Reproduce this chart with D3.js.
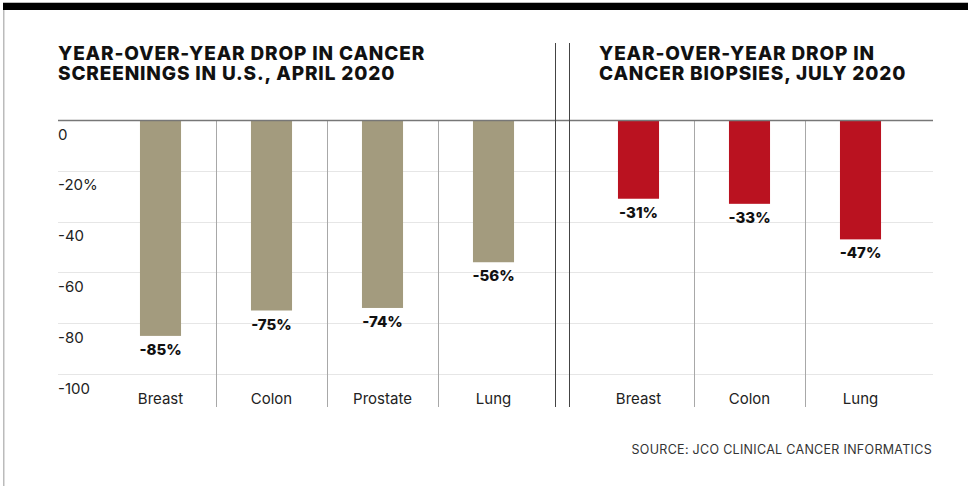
<!DOCTYPE html>
<meta charset="utf-8">
<style>
body { margin: 0; background: #fff; }
svg { display: block; }
.grid line { stroke: #e6e6e6; shape-rendering: crispEdges; }
.divider { stroke: #a8a8a8; shape-rendering: crispEdges; }
.sep { stroke: #444; shape-rendering: crispEdges; }
.title { font-family: Inter, "Noto Sans", sans-serif; font-weight: 800; font-size: 19px; fill: #111; letter-spacing: 0.85px; }
.tick text { font-family: Inter, Roboto, sans-serif; font-size: 15px; fill: #222; }
.cat { font-family: Inter, Roboto, sans-serif; font-size: 15px; fill: #222; }
.val { font-family: Inter, Roboto, sans-serif; font-size: 15px; font-weight: 800; fill: #111; }
.source { font-family: Inter, Roboto, sans-serif; font-size: 12.5px; fill: #333; letter-spacing: 0.3px; }
</style>
<body>
<script src="https://cdn.jsdelivr.net/npm/d3@7"></script>
<script>
// screenings, April 2020
var screenCats = ["Breast", "Colon", "Prostate", "Lung"];
var screenVals = [-85, -75, -74, -56];
// biopsies, July 2020
var biopsyCats = ["Breast", "Colon", "Lung"];
var biopsyVals = [-31, -33, -47];
var yTicks = [0, -20, -40, -60, -80, -100];
var yTickLabels = ["0", "-20%", "-40", "-60", "-80", "-100"];

var width = 968, height = 486;

var svg = d3.select("body").append("svg")
  .attr("width", width)
  .attr("height", height);

// frame: black bar on top, thin gray border left
svg.append("rect").attr("x", 3).attr("y", 2).attr("width", width - 3).attr("height", 1).attr("fill", "#bbb");
svg.append("rect").attr("x", 3).attr("y", 3).attr("width", width - 3).attr("height", 7).attr("fill", "#000");
svg.append("rect").attr("x", 3).attr("y", 10).attr("width", 1.5).attr("height", height - 10).attr("fill", "#bbb");

var y = d3.scaleLinear().domain([0, -100]).range([120, 374]);

// gridlines + tick labels
var yAxis = d3.axisLeft(y)
  .tickValues(yTicks)
  .tickSize(-(933 - 58))
  .tickFormat(function(d, i) { return yTickLabels[i]; });

var gAxis = svg.append("g")
  .attr("class", "grid")
  .attr("transform", "translate(58,0)")
  .call(yAxis);
gAxis.select(".domain").remove();
gAxis.selectAll(".tick line").attr("stroke", "#e6e6e6");
gAxis.selectAll(".tick text")
  .attr("x", 0)
  .attr("dy", 19)
  .attr("text-anchor", "start");

// two panels
var panels = [
  { cats: screenCats, vals: screenVals, x0: 105, color: "#a39b7e",
    title: ["YEAR-OVER-YEAR DROP IN CANCER", "SCREENINGS IN U.S., APRIL 2020"], tx: 58 },
  { cats: biopsyCats, vals: biopsyVals, x0: 583, color: "#ba1220",
    title: ["YEAR-OVER-YEAR DROP IN", "CANCER BIOPSIES, JULY 2020"], tx: 599 }
];

panels.forEach(function(p) {
  var x = d3.scaleBand()
    .domain(p.cats)
    .range([p.x0, p.x0 + 111 * p.cats.length])
    .paddingInner(0.63)
    .paddingOuter(0.315);

  var step = x.step();
  var g = svg.append("g");

  // light dividers between categories
  g.selectAll(".divider")
    .data(p.cats.slice(1))
    .enter().append("line")
    .attr("class", "divider")
    .attr("x1", function(d) { return Math.round(x(d) - x.paddingInner() * step / 2) + 0.5; })
    .attr("x2", function(d) { return Math.round(x(d) - x.paddingInner() * step / 2) + 0.5; })
    .attr("y1", 120)
    .attr("y2", 407);

  g.selectAll(".bar")
    .data(p.vals)
    .enter().append("rect")
    .attr("x", function(d, i) { return x(p.cats[i]); })
    .attr("y", y(0))
    .attr("width", x.bandwidth())
    .attr("height", function(d) { return y(d) - y(0); })
    .attr("fill", p.color);

  g.selectAll(".val")
    .data(p.vals)
    .enter().append("text")
    .attr("class", "val")
    .attr("x", function(d, i) { return x(p.cats[i]) + x.bandwidth() / 2; })
    .attr("y", function(d) { return y(d) + 19; })
    .attr("text-anchor", "middle")
    .text(function(d) { return d + "%"; });

  g.selectAll(".cat")
    .data(p.cats)
    .enter().append("text")
    .attr("class", "cat")
    .attr("x", function(d) { return x(d) + x.bandwidth() / 2; })
    .attr("y", 404)
    .attr("text-anchor", "middle")
    .text(function(d) { return d; });

  g.selectAll(".title")
    .data(p.title)
    .enter().append("text")
    .attr("class", "title")
    .attr("x", p.tx)
    .attr("y", function(d, i) { return 60 + i * 20; })
    .text(function(d) { return d; });
});

// zero line
svg.append("line")
  .attr("x1", 58).attr("x2", 933)
  .attr("y1", Math.round(y(0)) + 0.5).attr("y2", Math.round(y(0)) + 0.5)
  .attr("stroke", "#777")
  .attr("stroke-width", 1.5);

// double separator between panels
[555, 569].forEach(function(sx) {
  svg.append("line")
    .attr("class", "sep")
    .attr("x1", sx + 0.5).attr("x2", sx + 0.5)
    .attr("y1", 43).attr("y2", 407);
});

svg.append("text")
  .attr("class", "source")
  .attr("x", 932)
  .attr("y", 454)
  .attr("text-anchor", "end")
  .text("SOURCE: JCO CLINICAL CANCER INFORMATICS");
</script>
</body>
